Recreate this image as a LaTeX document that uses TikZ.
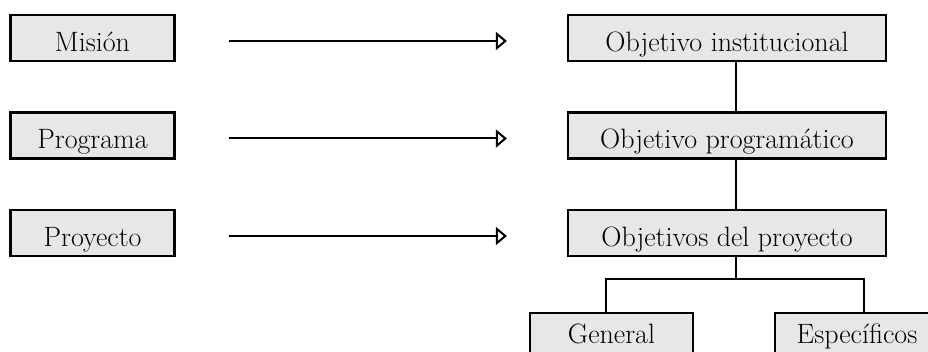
\documentclass[tikz,border=0pt]{standalone}
\usepackage{fontspec}
\usepackage{tikz}
\usetikzlibrary{arrows.meta}
\usepackage{xcolor}
\definecolor{cajagris}{HTML}{E6E7E8}

\begin{document}
\begin{tikzpicture}[x=1pt,y=-1pt,
  caja/.style={draw=black, fill=cajagris, line width=2.2pt, inner sep=0pt,
    minimum height=46pt, text height=27pt, text depth=0pt,
    font=\fontsize{28}{32}\selectfont},
  cajabaja/.style={caja, text height=25pt, text depth=11pt},
  flecha/.style={line width=2pt, -{Triangle[open, length=11pt, width=18pt]}},
  linea/.style={line width=2pt}]
  \clip (0,0) rectangle (928,352);
  % columna izquierda
  \node[caja, minimum width=164pt] (mision)   at (92.5,38)  {Misi\'on};
  \node[caja, minimum width=164pt] (programa) at (92.5,135.5) {Programa};
  \node[caja, minimum width=164pt] (proyecto) at (92.5,233) {Proyecto};
  % columna derecha
  \node[caja, minimum width=318pt] (objinst) at (727,38)  {Objetivo institucional};
  \node[caja, minimum width=318pt] (objprog) at (727,135.5) {Objetivo program\'atico};
  \node[caja, minimum width=318pt] (objproy) at (727,233) {Objetivos del proyecto};
  % nivel inferior
  \node[cajabaja, minimum width=163pt] (general) at (611.5,336) {General};
  \node[cajabaja, minimum width=164pt] (especif) at (857,336) {Espec\'ificos};
  % flechas
  \draw[flecha] ([xshift=53pt,yshift=-3pt]mision.east) -- ([xshift=-60pt,yshift=-3pt]objinst.west);
  \draw[flecha] ([xshift=53pt,yshift=-3pt]programa.east) -- ([xshift=-60pt,yshift=-3pt]objprog.west);
  \draw[flecha] ([xshift=53pt,yshift=-3pt]proyecto.east) -- ([xshift=-60pt,yshift=-3pt]objproy.west);
  % lineas verticales
  \draw[linea] ([xshift=9pt]objinst.south) -- ([xshift=9pt]objprog.north);
  \draw[linea] ([xshift=9pt]objprog.south) -- ([xshift=9pt]objproy.north);
  \coordinate (split) at (736,279);
  \draw[linea] ([xshift=9pt]objproy.south) -- (split);
  \draw[linea] (split) -| ([xshift=-5.5pt]general.north);
  \draw[linea] (split) -| ([xshift=7pt]especif.north);
\end{tikzpicture}
\end{document}
